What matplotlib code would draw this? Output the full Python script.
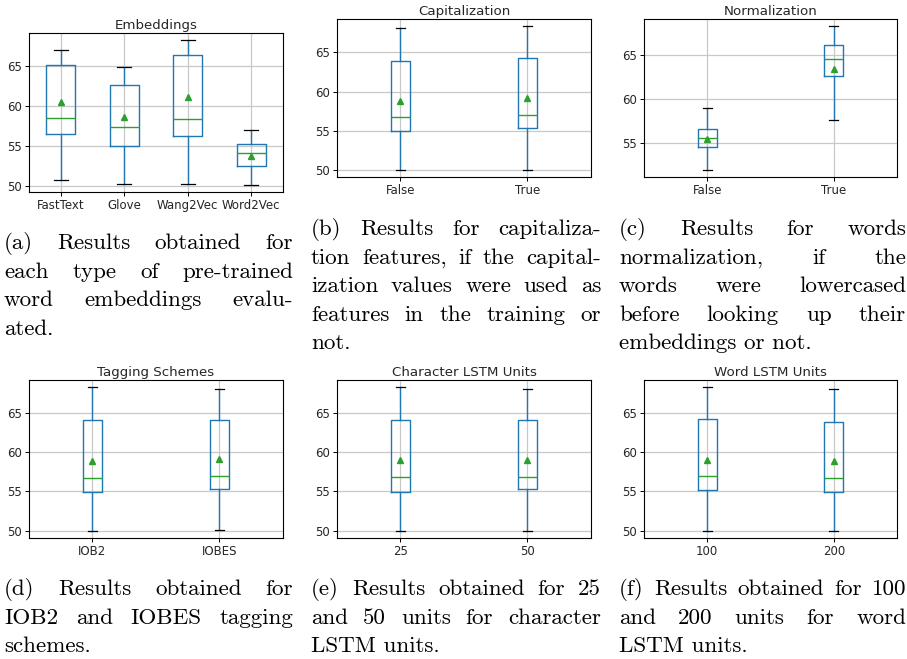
import matplotlib
matplotlib.use("Agg")
import matplotlib.pyplot as plt

W, H = 907, 659

# box statistics (whisker low, q1, median, q3, whisker high, mean)
emb_labels = ["FastText", "Glove", "Wang2Vec", "Word2Vec"]
emb_lo = [50.7, 50.2, 50.2, 50.1]
emb_q1 = [56.5, 55.0, 56.2, 52.4]
emb_med = [58.4, 57.35, 58.3, 54.1]
emb_q3 = [65.1, 62.6, 66.4, 55.25]
emb_hi = [67.0, 64.85, 68.2, 56.9]
emb_mean = [60.5, 58.6, 61.1, 53.7]

cap_labels = ["False", "True"]
cap_lo = [50.0, 50.0]
cap_q1 = [54.95, 55.3]
cap_med = [56.7, 57.0]
cap_q3 = [63.85, 64.3]
cap_hi = [68.1, 68.35]
cap_mean = [58.8, 59.2]

norm_labels = ["False", "True"]
norm_lo = [52.0, 57.6]
norm_q1 = [54.6, 62.65]
norm_med = [55.6, 64.55]
norm_q3 = [56.6, 66.2]
norm_hi = [59.0, 68.3]
norm_mean = [55.5, 63.4]

tag_labels = ["IOB2", "IOBES"]
tag_lo = [50.0, 50.1]
tag_q1 = [54.9, 55.3]
tag_med = [56.7, 57.0]
tag_q3 = [64.05, 64.05]
tag_hi = [68.25, 68.0]
tag_mean = [58.85, 59.15]

char_labels = ["25", "50"]
char_lo = [50.0, 50.0]
char_q1 = [54.95, 55.3]
char_med = [56.85, 56.85]
char_q3 = [64.1, 64.05]
char_hi = [68.25, 68.05]
char_mean = [58.95, 58.95]

word_labels = ["100", "200"]
word_lo = [50.0, 50.0]
word_q1 = [55.2, 54.95]
word_med = [56.95, 56.7]
word_q3 = [64.2, 63.85]
word_hi = [68.25, 68.05]
word_mean = [59.05, 58.9]

panels = [
    ("Embeddings", emb_labels, emb_lo, emb_q1, emb_med, emb_q3, emb_hi, emb_mean, (29, 33, 283, 192)),
    ("Capitalization", cap_labels, cap_lo, cap_q1, cap_med, cap_q3, cap_hi, cap_mean, (337, 19, 591, 177)),
    ("Normalization", norm_labels, norm_lo, norm_q1, norm_med, norm_q3, norm_hi, norm_mean, (644, 19, 897, 177)),
    ("Tagging Schemes", tag_labels, tag_lo, tag_q1, tag_med, tag_q3, tag_hi, tag_mean, (29, 380, 283, 538)),
    ("Character LSTM Units", char_labels, char_lo, char_q1, char_med, char_q3, char_hi, char_mean, (337, 380, 591, 538)),
    ("Word LSTM Units", word_labels, word_lo, word_q1, word_med, word_q3, word_hi, word_mean, (644, 380, 897, 538)),
]

captions = [
    (["(a) Results obtained for", "each type of pre-trained", "word embeddings evalu-", "ated."], 4, 293, 249),
    (["(b) Results for capitaliza-", "tion features, if the capital-", "ization values were used as",
      "features in the training or", "not."], 311, 601, 235),
    (["(c) Results for words", "normalization, if the", "words were lowercased",
      "before looking up their", "embeddings or not."], 619, 906, 235),
    (["(d) Results obtained for", "IOB2 and IOBES tagging", "schemes."], 4, 293, 595),
    (["(e) Results obtained for 25", "and 50 units for character", "LSTM units."], 311, 601, 595),
    (["(f) Results obtained for 100", "and 200 units for word", "LSTM units."], 619, 906, 595),
]

LINE = 28.6
CAP_SIZE = 16.6

fig = plt.figure(figsize=(W / 100, H / 100), dpi=100)


def draw_panel(title, labels, lo, q1, med, q3, hi, mean, box):
    x0, y0, x1, y1 = box
    ax = fig.add_axes([x0 / W, 1 - y1 / H, (x1 - x0) / W, (y1 - y0) / H])
    stats = []
    for i, lab in enumerate(labels):
        stats.append(dict(label=lab, whislo=lo[i], q1=q1[i], med=med[i], q3=q3[i],
                          whishi=hi[i], mean=mean[i], fliers=[]))
    ax.bxp(stats, showmeans=True, patch_artist=False,
           boxprops=dict(color="#1f77b4", linewidth=1.0),
           whiskerprops=dict(color="#1f77b4", linewidth=1.0),
           capprops=dict(color="black", linewidth=0.9),
           medianprops=dict(color="#2ca02c", linewidth=1.0),
           meanprops=dict(marker="^", markerfacecolor="#2ca02c", markeredgecolor="#2ca02c",
                          markersize=5))
    ax.grid(True, color="#c8c8c8", linewidth=0.9)
    ax.set_axisbelow(True)
    ax.set_title(title, fontsize=9.6, pad=3, color="#262626")
    ax.tick_params(labelsize=8.5, width=0.7, length=3, pad=2, labelcolor="#262626")
    for s in ax.spines.values():
        s.set_linewidth(0.8)
    ymin, ymax = ax.get_ylim()
    ax.set_yticks([t for t in (50, 55, 60, 65) if ymin <= t <= ymax])
    ax.set_ylim(ymin, ymax)
    return ax


for p in panels:
    draw_panel(*p)

renderer = fig.canvas.get_renderer()


def word_width(word):
    t = fig.text(0, 0, word, fontsize=CAP_SIZE, family="cmr10")
    w = t.get_window_extent(renderer).width
    t.remove()
    return w


def put_caption(lines, x0, x1, y_base):
    for i, line in enumerate(lines):
        y = y_base + i * LINE
        words = line.split()
        if i == len(lines) - 1 or len(words) == 1:
            fig.text(x0 / W, 1 - y / H, line, fontsize=CAP_SIZE, family="cmr10",
                     va="baseline", ha="left")
            continue
        widths = [word_width(w) for w in words]
        gap = (x1 - x0 - sum(widths)) / (len(words) - 1)
        x = x0
        for w, wd in zip(words, widths):
            fig.text(x / W, 1 - y / H, w, fontsize=CAP_SIZE, family="cmr10",
                     va="baseline", ha="left")
            x += wd + gap


for c in captions:
    put_caption(*c)

fig.savefig("out.png", dpi=100)
